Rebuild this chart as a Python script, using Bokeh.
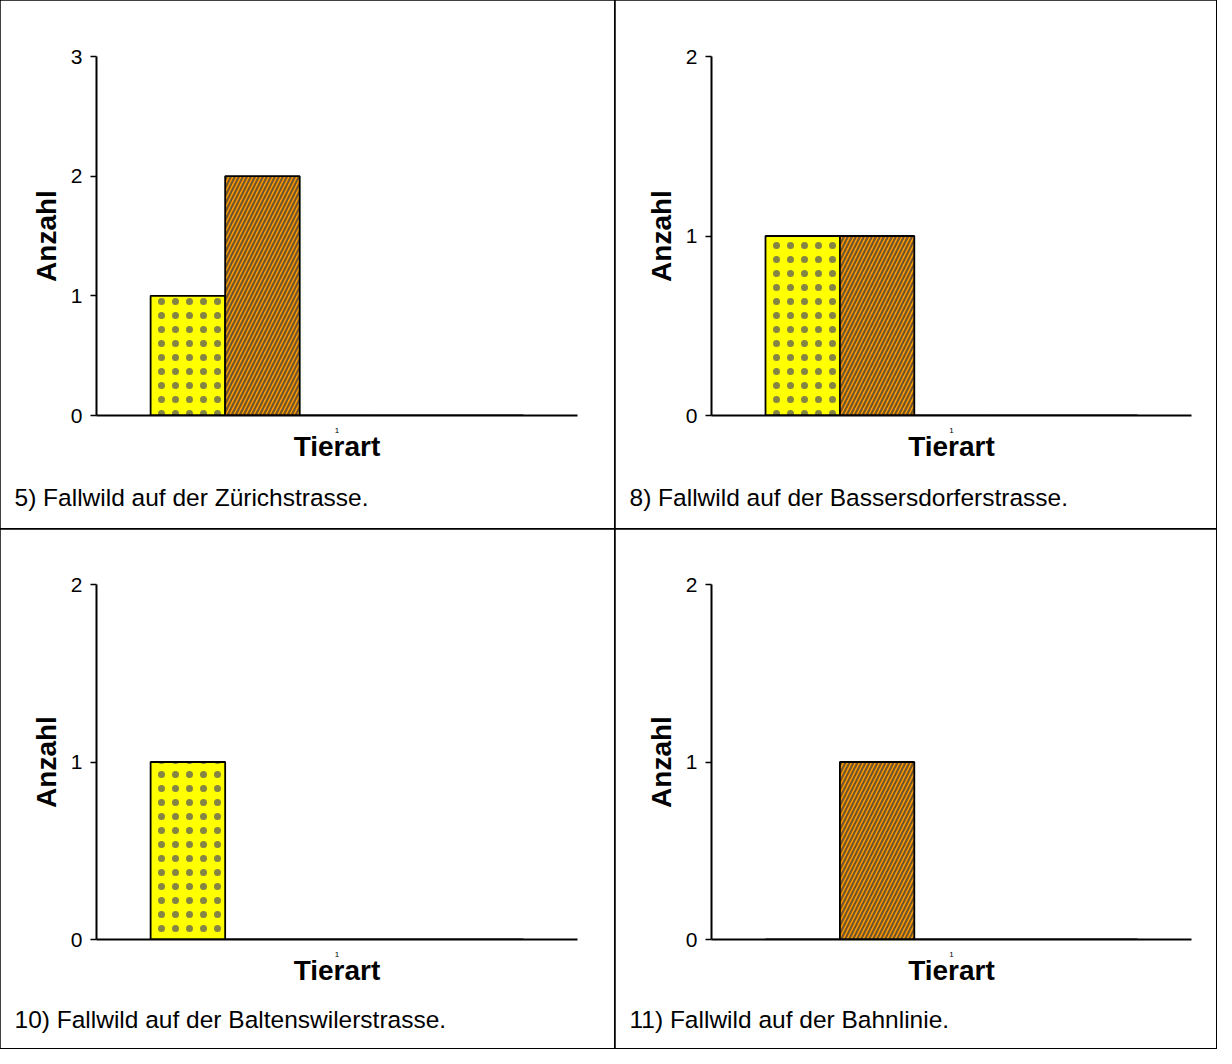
from bokeh.plotting import figure
from bokeh.layouts import gridplot
from bokeh.models import ColumnDataSource, FactorRange, Range1d, FixedTicker, Title
from bokeh.transform import dodge
from bokeh.embed import file_html
from bokeh.resources import INLINE

# ---------------- data ----------------
categories = ["1"]
series_names = ["Serie 1", "Serie 2", "Serie 3", "Serie 4", "Serie 5"]
captions = [
    "5) Fallwild auf der Zürichstrasse.",
    "8) Fallwild auf der Bassersdorferstrasse.",
    "10) Fallwild auf der Baltenswilerstrasse.",
    "11) Fallwild auf der Bahnlinie.",
]
zuerichstrasse = [1, 2, 0, 0, 0]
bassersdorferstrasse = [1, 1, 0, 0, 0]
baltenswilerstrasse = [1, 0, 0, 0, 0]
bahnlinie = [0, 1, 0, 0, 0]
panel_values = [zuerichstrasse, bassersdorferstrasse, baltenswilerstrasse, bahnlinie]
y_max = [3, 2, 2, 2]
x_label = "Tierart"
y_label = "Anzahl"

# ---------------- styles ----------------
FONT = "Liberation Sans"
fill_colors = ["#FFFF00", "#FF9900", "#99CCFF", "#CC99FF", "#99FF99"]
hatch_patterns = ["dot", "right_diagonal_line", "blank", "blank", "blank"]
hatch_colors = ["#6e6e50", "#3c3c3c", "#000000", "#000000", "#000000"]
hatch_scales = [14, 8, 6, 6, 6]
hatch_weights = [1.0, 2.2, 1, 1, 1]
hatch_alphas = [0.85, 0.72, 1, 1, 1]
bar_w = 0.155

# cell geometry: (width, height, left, right, top, bottom, caption standoff)
cells = [
    (615, 529, 96, 38, 56, 114, 35),
    (601, 529, 96, 25, 56, 114, 35),
    (615, 519, 96, 38, 55, 109, 30),
    (601, 519, 96, 25, 55, 109, 30),
]


def make_panel(i):
    w, h, bl, br, bt, bb, cs = cells[i]
    vals = panel_values[i]
    p = figure(
        width=w, height=h,
        x_range=FactorRange(factors=categories, range_padding=0),
        y_range=Range1d(0, y_max[i]),
        output_backend="svg", toolbar_location=None, tools="",
        min_border_left=bl, min_border_right=br,
        min_border_top=bt, min_border_bottom=bb,
        background_fill_color="white", border_fill_color="white",
        outline_line_color=None,
        styles={"outline": "2px solid black", "outline-offset": "-1px"},
    )
    p.grid.visible = False

    data = {"cat": categories}
    for k, v in enumerate(vals):
        data[f"s{k}"] = [v]
    src = ColumnDataSource(data)
    n = len(series_names)
    for k in range(n):
        off = (k - (n - 1) / 2) * bar_w
        p.vbar(x=dodge("cat", off, range=p.x_range), top=f"s{k}", bottom=0,
               width=bar_w, source=src,
               fill_color=fill_colors[k], line_color="black", line_width=1.8,
               hatch_pattern=hatch_patterns[k], hatch_color=hatch_colors[k],
               hatch_scale=hatch_scales[k], hatch_weight=hatch_weights[k],
               hatch_alpha=hatch_alphas[k])

    # y axis
    ya = p.yaxis[0]
    ya.ticker = FixedTicker(ticks=list(range(0, y_max[i] + 1)))
    ya.minor_tick_line_color = None
    ya.major_tick_in = 0
    ya.major_tick_out = 6
    ya.major_tick_line_width = 1.5
    ya.axis_line_width = 2
    ya.major_label_standoff = 8
    ya.major_label_text_font = FONT
    ya.major_label_text_font_size = "21px"
    ya.major_label_text_color = "black"
    ya.axis_label = y_label
    ya.axis_label_text_font = FONT
    ya.axis_label_text_font_size = "28px"
    ya.axis_label_text_font_style = "bold"
    ya.axis_label_text_color = "black"
    ya.axis_label_standoff = 6

    # x axis
    xa = p.xaxis[0]
    xa.major_tick_in = 0
    xa.major_tick_out = 0
    xa.axis_line_width = 2
    xa.major_label_standoff = 12
    xa.major_label_text_font = FONT
    xa.major_label_text_font_size = "8px"
    xa.major_label_text_color = "black"
    xa.axis_label = x_label
    xa.axis_label_text_font = FONT
    xa.axis_label_text_font_size = "28px"
    xa.axis_label_text_font_style = "bold"
    xa.axis_label_text_color = "black"
    xa.axis_label_standoff = -5

    cap = Title(text=captions[i], align="left", offset=-82, standoff=cs,
                text_font=FONT, text_font_size="24.5px",
                text_font_style="normal", text_color="black")
    p.add_layout(cap, "below")
    return p


panels = [make_panel(i) for i in range(4)]
grid = gridplot([[panels[0], panels[1]], [panels[2], panels[3]]],
                toolbar_location=None)

open("out.html", "w").write(file_html(grid, INLINE))
